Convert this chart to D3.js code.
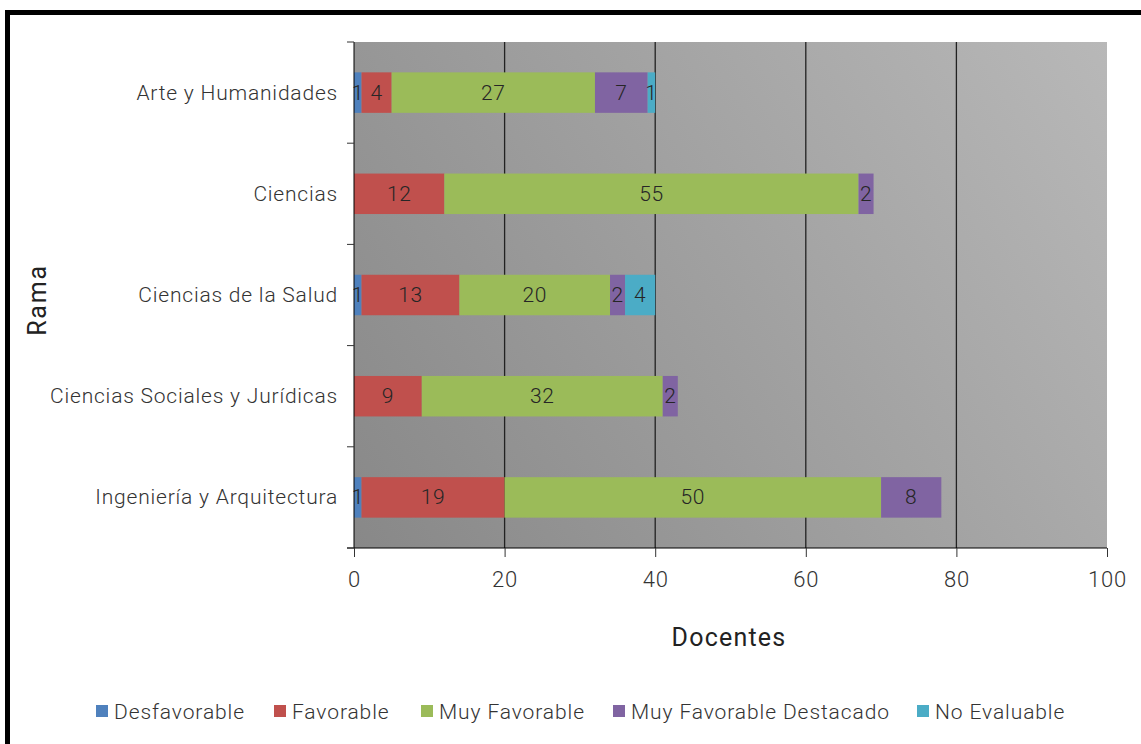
<!DOCTYPE html>
<html><head><meta charset="utf-8">
<script src="https://cdn.jsdelivr.net/npm/d3@7"></script>
<style>body{margin:0;background:#fff}svg{display:block}</style>
</head><body>
<svg id="c" width="1141" height="744"></svg>
<script>
const categories = ["Arte y Humanidades","Ciencias","Ciencias de la Salud","Ciencias Sociales y Jurídicas","Ingeniería y Arquitectura"];
const seriesNames = ["Desfavorable","Favorable","Muy Favorable","Muy Favorable Destacado","No Evaluable"];
const desfavorable = [1,0,1,0,1];
const favorable = [4,12,13,9,19];
const muyFavorable = [27,55,20,32,50];
const muyFavorableDestacado = [7,2,2,2,8];
const noEvaluable = [1,0,4,0,0];
const colors = ["#4F81BD","#C0504D","#9BBB59","#8064A2","#4BACC6"];
const xTicks = [0,20,40,60,80,100];

const seriesVals = [desfavorable,favorable,muyFavorable,muyFavorableDestacado,noEvaluable];
const rows = categories.map((c,i)=>{const o={cat:c};seriesNames.forEach((s,j)=>o[s]=seriesVals[j][i]);return o;});
const stack = d3.stack().keys(seriesNames)(rows);

const svg = d3.select("#c");
const font = "Roboto, 'DejaVu Sans', sans-serif";
const L=354,R=1107,T=42,B=548;
const x = d3.scaleLinear().domain([0,100]).range([L,R]);
const y = d3.scaleBand().domain(categories).range([T,B]).paddingInner(0.6).paddingOuter(0.3);

// frame
svg.append("rect").attr("x",7.5).attr("y",12.5).attr("width",1160).attr("height",760)
  .attr("fill","none").attr("stroke","#000").attr("stroke-width",5);

const defs = svg.append("defs");
const g = defs.append("linearGradient").attr("id","bg").attr("x1","0").attr("y1","1").attr("x2","1.207").attr("y2","0.478");
g.append("stop").attr("offset","0").attr("stop-color","#888888");
g.append("stop").attr("offset","1").attr("stop-color","#b8b8b8");
svg.append("rect").attr("x",L).attr("y",T).attr("width",R-L).attr("height",B-T).attr("fill","url(#bg)");

// gridlines
svg.append("g").selectAll("line").data(xTicks.slice(1,5)).join("line")
  .attr("x1",d=>x(d)).attr("x2",d=>x(d)).attr("y1",T).attr("y2",B)
  .attr("stroke","#222").attr("stroke-width",1.3);

// bars
const layer = svg.append("g").selectAll("g").data(stack).join("g").attr("fill",(d,i)=>colors[i]);
layer.selectAll("rect").data(d=>d).join("rect")
  .attr("x",d=>x(d[0])).attr("width",d=>x(d[1])-x(d[0]))
  .attr("y",d=>y(d.data.cat)).attr("height",y.bandwidth());
layer.selectAll("text").data(d=>d.filter(v=>v[1]-v[0]>0).map(v=>({v,key:d.key}))).join("text")
  .attr("x",d=>(x(d.v[0])+x(d.v[1]))/2).attr("y",d=>y(d.v.data.cat)+y.bandwidth()/2+7)
  .attr("text-anchor","middle").attr("fill","#262626").attr("font-family",font).attr("font-size",21).attr("font-weight",300)
  .attr("letter-spacing",0.6)
  .text(d=>d.v[1]-d.v[0]);

// x axis
const xa = svg.append("g").attr("transform",`translate(0,${B})`)
  .call(d3.axisBottom(x).tickValues(xTicks).tickSize(9).tickPadding(14));
xa.select(".domain").attr("d",`M${L-7},0H${R}`).attr("stroke","#000");
xa.selectAll(".tick line").attr("stroke","#333");
xa.selectAll("text").attr("font-family",font).attr("font-size",22).attr("font-weight",300).attr("fill","#333").attr("letter-spacing",0.8);

// y axis
const ya = svg.append("g").attr("transform",`translate(${L},0)`);
ya.append("line").attr("x1",0).attr("x2",0).attr("y1",T).attr("y2",B).attr("stroke","#000");
const bounds = d3.range(categories.length+1).map(i=>T+i*(B-T)/categories.length);
ya.selectAll("line.t").data(bounds).join("line").attr("class","t")
  .attr("x1",-7).attr("x2",0).attr("y1",d=>d).attr("y2",d=>d).attr("stroke","#333");
ya.selectAll("text").data(categories).join("text")
  .attr("x",-16).attr("y",d=>y(d)+y.bandwidth()/2+7).attr("text-anchor","end")
  .attr("font-family",font).attr("font-size",21).attr("font-weight",300).attr("letter-spacing",0.8).attr("fill","#333").text(d=>d);

// axis titles
svg.append("text").attr("x",729).attr("y",646).attr("text-anchor","middle")
  .attr("font-family",font).attr("font-size",25).attr("letter-spacing",1.2).attr("fill","#222").text("Docentes");
svg.append("text").attr("transform","translate(46,300) rotate(-90)").attr("text-anchor","middle")
  .attr("font-family",font).attr("font-size",25).attr("letter-spacing",1.8).attr("fill","#222").text("Rama");

// legend
const legX = [96,274,421,613,917];
const lg = svg.append("g").selectAll("g").data(seriesNames).join("g")
  .attr("transform",(d,i)=>`translate(${legX[i]},712)`);
lg.append("rect").attr("x",0).attr("y",-7).attr("width",12).attr("height",12).attr("fill",(d,i)=>colors[i]);
lg.append("text").attr("x",18).attr("y",7).attr("font-family",font).attr("font-size",21).attr("font-weight",300)
  .attr("letter-spacing",0.9).attr("fill","#333").text(d=>d);
</script>
</body></html>
